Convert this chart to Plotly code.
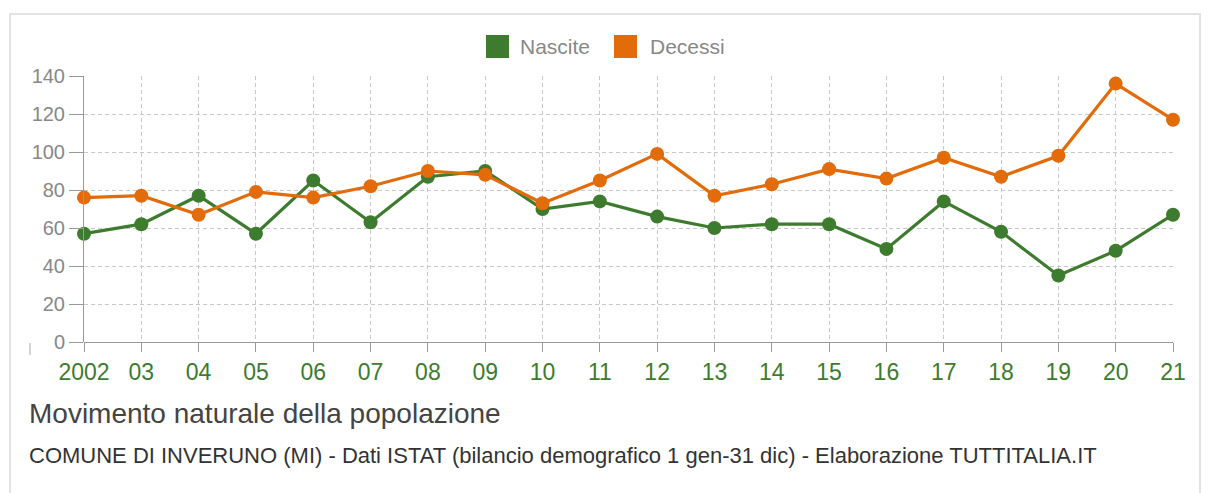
import plotly.graph_objects as go

anni = list(range(2002, 2022))
etichette = ["2002", "03", "04", "05", "06", "07", "08", "09", "10", "11",
             "12", "13", "14", "15", "16", "17", "18", "19", "20", "21"]
nascite = [57, 62, 77, 57, 85, 63, 87, 90, 70, 74, 66, 60, 62, 62, 49, 74, 58, 35, 48, 67]
decessi = [76, 77, 67, 79, 76, 82, 90, 88, 73, 85, 99, 77, 83, 91, 86, 97, 87, 98, 136, 117]
y_ticks = [0, 20, 40, 60, 80, 100, 120, 140]
serie = [("Nascite", nascite), ("Decessi", decessi)]

VERDE = "#3d7b2e"
ARANCIO = "#e26b0a"
colori = {"Nascite": VERDE, "Decessi": ARANCIO}

# page body has an 8px margin
W, H = 1203, 485
PX0, PX1, PY0, PY1 = 84, 1173, 76, 342  # plot area in screen pixels
L = PX0 - 8
T = PY0 - 8
R = W - (PX1 - 8)
B = H - (PY1 - 8)

def px(x):
    return (x - PX0) / (PX1 - PX0)

def py(y):
    return (PY1 - y) / (PY1 - PY0)

fig = go.Figure()
for nome, vals in serie:
    col = colori[nome]
    fig.add_trace(go.Scatter(
        x=anni, y=vals, mode="lines+markers", name=nome, showlegend=False,
        line=dict(color=col, width=3.2), marker=dict(color=col, size=14),
        cliponaxis=False))

shapes = [
    dict(type="rect", xref="paper", yref="paper",
         x0=px(10), x1=px(1200), y0=py(520), y1=py(14),
         line=dict(color="#e2e2e2", width=2), fillcolor="rgba(0,0,0,0)", layer="below"),
    dict(type="line", xref="paper", yref="paper",
         x0=px(30), x1=px(30), y0=py(343), y1=py(355),
         line=dict(color="#aaa", width=1)),
]
annotations = [
    dict(text="Movimento naturale della popolazione", xref="paper", yref="paper",
         x=px(27), y=py(413), xanchor="left", yanchor="middle", showarrow=False,
         font=dict(size=28, color="#444")),
    dict(text="COMUNE DI INVERUNO (MI) - Dati ISTAT (bilancio demografico 1 gen-31 dic) - Elaborazione TUTTITALIA.IT",
         xref="paper", yref="paper",
         x=px(27), y=py(455), xanchor="left", yanchor="middle", showarrow=False,
         font=dict(size=22, color="#333")),
]
# legend drawn manually (large square swatches)
leg_x = {"Nascite": (486, 521), "Decessi": (614, 651)}
for nome, _ in serie:
    sx, tx = leg_x[nome]
    shapes.append(dict(type="rect", xref="paper", yref="paper",
                       x0=px(sx), x1=px(sx + 23), y0=py(58), y1=py(35),
                       line=dict(width=0), fillcolor=colori[nome]))
    annotations.append(dict(text=nome, xref="paper", yref="paper",
                            x=px(tx - 3), y=py(47), xanchor="left", yanchor="middle",
                            showarrow=False, font=dict(size=21, color="#888")))

fig.update_layout(
    width=W, height=H,
    margin=dict(l=L, r=R, t=T, b=B),
    paper_bgcolor="white", plot_bgcolor="white",
    font=dict(family="Liberation Sans, Arial, sans-serif"),
    showlegend=False,
    xaxis=dict(range=[2002, 2021], tickvals=anni, ticktext=etichette,
               showgrid=True, gridcolor="#c8c8c8", griddash="4px,3px", gridwidth=1,
               ticks="outside", ticklen=9, tickcolor="#999",
               showline=False, zeroline=False,
               tickfont=dict(size=23, color=VERDE), fixedrange=True),
    yaxis=dict(range=[0, 140], tickvals=y_ticks,
               showgrid=True, gridcolor="#c8c8c8", griddash="4px,3px", gridwidth=1,
               ticks="outside", ticklen=14, tickcolor="#999",
               showline=True, linecolor="#999", linewidth=1,
               zeroline=True, zerolinecolor="#999", zerolinewidth=1,
               tickfont=dict(size=20, color="#888"), fixedrange=True),
    shapes=shapes,
    annotations=annotations,
)

fig.write_html("out.html")
